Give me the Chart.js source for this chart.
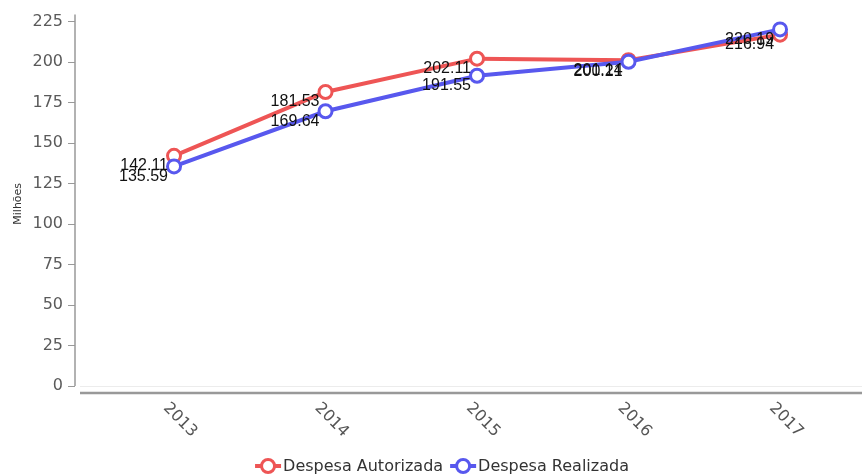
<!DOCTYPE html>
<html>
<head>
<meta charset="utf-8">
<script src="https://cdn.jsdelivr.net/npm/chart.js@4"></script>
<style>
  html, body { margin: 0; padding: 0; background: #fff; }
  #wrap { width: 864px; height: 475px; }
</style>
</head>
<body>
<div id="wrap"><canvas id="myChart" width="864" height="475"></canvas></div>
<script>
var years = [2013, 2014, 2015, 2016, 2017];
var autorizada = [142.11, 181.53, 202.11, 201.14, 216.94];
var realizada = [135.59, 169.64, 191.55, 200.21, 220.19];
var yTicks = [0, 25, 50, 75, 100, 125, 150, 175, 200, 225];
var seriesNames = ['Despesa Autorizada', 'Despesa Realizada'];

var red = 'rgb(238, 85, 85)';
var blue = 'rgb(88, 88, 238)';

function pts(vals) {
    return years.map(function (y, i) { return { x: y, y: vals[i] }; });
}

// axis lines, value labels, rotated year labels and legend
var extras = {
    id: 'extras',
    beforeDatasetsDraw: function (chart) {
        var ctx = chart.ctx, a = chart.chartArea, ys = chart.scales.y;
        var y0 = ys.getPixelForValue(0);
        ctx.save();
        ctx.strokeStyle = '#ececec';
        ctx.lineWidth = 1;
        ctx.beginPath(); ctx.moveTo(a.left + 5, y0 + 0.5); ctx.lineTo(a.right, y0 + 0.5); ctx.stroke();
        ctx.strokeStyle = '#999';
        ctx.lineWidth = 1.5;
        ctx.beginPath(); ctx.moveTo(a.left, a.top); ctx.lineTo(a.left, y0); ctx.stroke();
        ctx.lineWidth = 2.5;
        ctx.beginPath(); ctx.moveTo(a.left + 5, a.bottom); ctx.lineTo(a.right, a.bottom); ctx.stroke();
        ctx.restore();
    },
    afterDraw: function (chart) {
        var ctx = chart.ctx, xs = chart.scales.x;
        ctx.save();
        // value labels
        ctx.font = '16px "Liberation Sans", Arial, sans-serif';
        ctx.fillStyle = '#111';
        ctx.textAlign = 'right';
        ctx.textBaseline = 'middle';
        chart.data.datasets.forEach(function (ds, di) {
            chart.getDatasetMeta(di).data.forEach(function (p, i) {
                ctx.fillText(ds.data[i].y.toFixed(2), p.x - 6, p.y + 10);
            });
        });
        // year labels, rotated clockwise
        ctx.font = '16px "DejaVu Sans", Verdana, sans-serif';
        ctx.fillStyle = '#555';
        ctx.textAlign = 'center';
        years.forEach(function (y) {
            ctx.save();
            ctx.translate(xs.getPixelForValue(y) + 6, 420);
            ctx.rotate(Math.PI / 4);
            ctx.fillText(String(y), 0, 0);
            ctx.restore();
        });
        // legend
        ctx.font = '16px "DejaVu Sans", Verdana, sans-serif';
        ctx.textAlign = 'left';
        var items = chart.data.datasets.map(function (ds) {
            return { text: ds.label, color: ds.borderColor, w: ctx.measureText(ds.label).width };
        });
        var sym = 26, gap = 2, itemGap = 7;
        var total = 0;
        items.forEach(function (it, i) { total += sym + gap + it.w + (i ? itemGap : 0); });
        var x = chart.width / 2 + 10 - total / 2, ly = 466;
        items.forEach(function (it) {
            ctx.strokeStyle = it.color;
            ctx.lineWidth = 4;
            ctx.beginPath(); ctx.moveTo(x, ly); ctx.lineTo(x + sym, ly); ctx.stroke();
            ctx.fillStyle = '#fff';
            ctx.lineWidth = 3;
            ctx.beginPath(); ctx.arc(x + sym / 2, ly, 6.5, 0, Math.PI * 2); ctx.fill(); ctx.stroke();
            ctx.fillStyle = '#333';
            ctx.fillText(it.text, x + sym + gap, ly + 1);
            x += sym + gap + it.w + itemGap;
        });
        ctx.restore();
    }
};

var ctx = document.getElementById('myChart').getContext('2d');
var myChart = new Chart(ctx, {
    type: 'line',
    data: {
        datasets: [{
            label: seriesNames[0],
            data: pts(autorizada),
            borderColor: red,
            backgroundColor: '#fff',
            pointBackgroundColor: '#fff',
            borderWidth: 4,
            pointRadius: 6.5,
            pointBorderWidth: 3,
            order: 1
        }, {
            label: seriesNames[1],
            data: pts(realizada),
            borderColor: blue,
            backgroundColor: '#fff',
            pointBackgroundColor: '#fff',
            borderWidth: 4,
            pointRadius: 6.5,
            pointBorderWidth: 3,
            order: 0
        }]
    },
    options: {
        responsive: false,
        animation: false,
        layout: { autoPadding: false, padding: { top: 14, right: 2, left: 0, bottom: 0 } },
        plugins: {
            legend: { display: false },
            tooltip: { enabled: false }
        },
        scales: {
            x: {
                type: 'linear',
                min: 2012.3465,
                max: 2017.541,
                grid: { display: false },
                border: { display: false },
                ticks: { display: false },
                afterBuildTicks: function (s) { s.ticks = years.map(function (v) { return { value: v }; }); },
                afterFit: function (s) { s.height = 82; }
            },
            y: {
                min: -4.315,
                max: 229.315,
                afterBuildTicks: function (s) { s.ticks = yTicks.map(function (v) { return { value: v }; }); },
                afterFit: function (s) { s.width = 75; },
                border: { display: false },
                grid: { drawOnChartArea: false, drawTicks: true, tickLength: 7, color: '#999' },
                ticks: {
                    color: '#5a5a5a',
                    padding: 5,
                    font: { family: '"DejaVu Sans", Verdana, sans-serif', size: 16 }
                },
                title: {
                    display: true,
                    text: 'Milhões',
                    color: '#333',
                    padding: { top: 12, bottom: 0 },
                    font: { family: '"DejaVu Sans", Verdana, sans-serif', size: 11 }
                }
            }
        }
    },
    plugins: [extras]
});
</script>
</body>
</html>
